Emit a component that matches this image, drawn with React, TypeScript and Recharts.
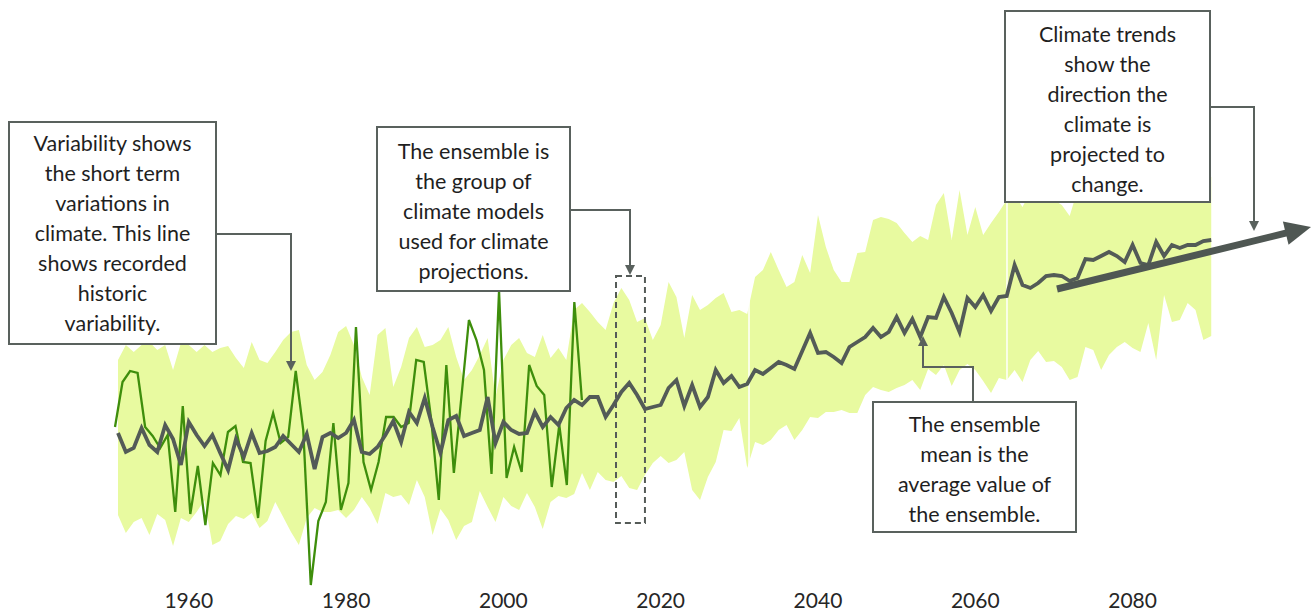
import React from 'react';
import {
  ComposedChart,
  Area,
  Line,
  XAxis,
  YAxis,
  ReferenceArea,
  ReferenceLine,
} from 'recharts';

// Temperature anomaly (°C), one value per year
const START_YEAR = 1951;
const OBS_START_YEAR = 1951;

const xTicks = [1960, 1980, 2000, 2020, 2040, 2060, 2080];

const ensembleMean = [
  0.07, -0.12, -0.08, 0.12, -0.05, -0.12, 0.15, 0.01, -0.25, 0.18,
  0.05, -0.06, 0.05, -0.13, -0.30, 0.01, -0.17, 0.07, -0.13, -0.11,
  -0.07, 0.04, -0.04, -0.12, 0.06, -0.29, 0.03, 0.07, 0.02, 0.07,
  0.20, -0.12, -0.14, -0.07, 0.05, 0.19, -0.02, 0.28, 0.17, 0.42,
  0.13, -0.13, 0.20, 0.24, 0.04, 0.07, 0.10, 0.43, -0.03, 0.18,
  0.10, 0.06, 0.07, 0.28, 0.13, 0.23, 0.15, 0.32, 0.40, 0.35,
  0.43, 0.43, 0.23, 0.35, 0.48, 0.57, 0.45, 0.31, 0.33, 0.35,
  0.52, 0.60, 0.34, 0.55, 0.33, 0.43, 0.70, 0.57, 0.64, 0.53,
  0.56, 0.70, 0.66, 0.72, 0.78, 0.75, 0.71, 0.89, 1.07, 0.87,
  0.88, 0.83, 0.77, 0.93, 0.98, 1.03, 1.12, 1.03, 1.08, 1.23,
  1.07, 1.21, 1.03, 1.23, 1.22, 1.43, 1.27, 1.08, 1.42, 1.33,
  1.45, 1.29, 1.43, 1.44, 1.75, 1.55, 1.52, 1.57, 1.64, 1.65,
  1.64, 1.59, 1.62, 1.81, 1.80, 1.84, 1.88, 1.84, 1.78, 1.95,
  1.77, 1.75, 1.98, 1.84, 1.95, 1.92, 1.95, 1.95, 1.99, 2.00,
];

const ensembleUpper = [
  0.80, 0.95, 0.88, 0.95, 0.98, 0.90, 0.95, 0.70, 0.97, 0.95,
  0.88, 0.95, 0.88, 0.92, 0.94, 0.82, 0.72, 0.98, 0.80, 0.77,
  0.88, 1.00, 1.08, 1.10, 0.75, 0.60, 0.68, 0.85, 1.08, 1.14,
  0.95, 0.63, 0.45, 1.05, 1.12, 0.53, 0.73, 1.02, 1.13, 0.93,
  0.95, 1.00, 1.13, 0.83, 0.60, 0.70, 0.85, 1.02, 0.43, 0.80,
  0.95, 1.02, 0.87, 0.83, 1.05, 0.82, 0.92, 0.80, 1.30, 1.37,
  1.28, 1.18, 1.10, 1.37, 1.52, 1.40, 1.18, 1.22, 1.00, 1.15,
  1.58, 1.43, 1.02, 1.45, 1.30, 1.35, 1.42, 1.47, 1.28, 1.30,
  1.26, 1.63, 1.70, 1.88, 1.70, 1.53, 1.58, 1.85, 1.67, 2.25,
  1.93, 1.70, 1.58, 1.58, 1.87, 1.88, 2.20, 2.23, 2.21, 2.17,
  2.07, 1.98, 2.04, 2.00, 2.35, 2.47, 2.00, 2.50, 2.05, 2.33,
  2.05, 2.17, 2.28, 2.40, 2.45, 2.33, 2.48, 2.55, 2.45, 2.40,
  2.35, 2.24, 2.50, 2.52, 2.45, 2.55, 2.50, 2.58, 2.52, 2.60,
  2.55, 2.50, 2.58, 2.62, 2.55, 2.60, 2.56, 2.61, 2.58, 2.63,
];

const ensembleLower = [
  -0.75, -0.93, -0.82, -0.78, -0.95, -0.74, -0.80, -1.06, -0.78, -0.82,
  -0.72, -0.60, -1.05, -1.01, -0.84, -0.76, -0.79, -0.73, -0.88, -0.81,
  -0.62, -0.77, -0.92, -1.05, -0.78, -0.68, -0.72, -0.72, -0.70, -0.78,
  -0.70, -0.57, -0.68, -0.84, -0.53, -0.57, -0.55, -0.65, -0.40, -0.57,
  -0.95, -0.69, -0.80, -1.00, -0.86, -0.82, -0.51, -0.67, -0.82, -0.57,
  -0.66, -0.70, -0.53, -0.67, -0.89, -0.62, -0.56, -0.58, -0.54, -0.33,
  -0.50, -0.32, -0.40, -0.42, -0.36, -0.48, -0.50, -0.35, -0.23, -0.16,
  -0.23, -0.20, -0.12, -0.50, -0.60, -0.37, -0.22, 0.10, 0.09, 0.22,
  -0.28, -0.02, -0.05, 0.00, 0.10, 0.15, 0.00, 0.10, 0.23, 0.22,
  0.28, 0.28, 0.30, 0.27, 0.27, 0.45, 0.53, 0.50, 0.48, 0.52,
  0.55, 0.60, 0.50, 0.71, 0.65, 0.75, 0.54, 0.70, 0.76, 0.70,
  0.59, 0.47, 0.62, 0.60, 0.70, 0.58, 0.80, 0.89, 0.78, 0.79,
  0.73, 0.60, 0.63, 0.93, 0.90, 0.70, 0.85, 0.93, 0.98, 0.92,
  0.88, 1.17, 0.80, 1.45, 1.18, 1.20, 1.37, 1.30, 1.00, 1.04,
];

// Recorded historic values
const observed = [
  0.13, 0.58, 0.69, 0.67, 0.13, 0.04, -0.08, 0.05, -0.72, 0.34,
  -0.74, -0.26, -0.85, -0.23, -0.35, 0.08, 0.14, -0.22, -0.23, -0.78,
  -0.01, 0.27, -0.03, 0.03, 0.69, 0.10, -1.45, -0.81, -0.62, 0.17,
  -0.70, -0.43, 1.13, -0.22, -0.50, -0.22, 0.23, 0.23, 0.13, 0.17,
  0.80, 0.78, 0.20, -0.60, 0.75, -0.33, 0.43, 1.20, 1.00, 0.70,
  -0.34, 1.49, -0.38, -0.07, -0.32, 0.75, 0.54, 0.45, -0.47, 0.15,
  -0.45, 1.38, 0.40,
];

const chartData = ensembleMean.map((mean, i) => ({
  year: START_YEAR + i,
  mean,
  range: [ensembleLower[i], ensembleUpper[i]],
}));

const observedData = observed.map((obs, i) => ({ year: OBS_START_YEAR + i, obs }));

const INK = '#59615D';
const FONT = 'Lato, "Open Sans", sans-serif';

const callouts = [
  {
    lines: ['Variability shows', 'the short term', 'variations in', 'climate. This line', 'shows recorded', 'historic', 'variability.'],
    left: 8, top: 121, width: 209, height: 224, padTop: 5,
  },
  {
    lines: ['The ensemble is', 'the group of', 'climate models', 'used for climate', 'projections.'],
    left: 376, top: 126, width: 195, height: 166, padTop: 8,
  },
  {
    lines: ['The ensemble', 'mean is the', 'average value of', 'the ensemble.'],
    left: 872, top: 401, width: 205, height: 132, padTop: 6,
  },
  {
    lines: ['Climate trends', 'show the', 'direction the', 'climate is', 'projected to', 'change.'],
    left: 1004, top: 10, width: 207, height: 193, padTop: 7,
  },
];

const connectors = [
  [[217, 234], [291, 234], [291, 371]],
  [[571, 210], [630, 210], [630, 275]],
  [[973, 401], [973, 367], [923, 367], [923, 336]],
  [[1211, 107], [1254, 107], [1254, 231]],
];

const Connector = ({ pts }: { pts: number[][] }) => {
  const [tx, ty] = pts[pts.length - 1];
  const [px, py] = pts[pts.length - 2];
  const len = Math.hypot(tx - px, ty - py);
  const ux = (tx - px) / len;
  const uy = (ty - py) / len;
  const bx = tx - ux * 10;
  const by = ty - uy * 10;
  const line = [...pts.slice(0, -1), [bx, by]].map((p) => p.join(',')).join(' ');
  return (
    <g>
      <polyline points={line} fill="none" stroke={INK} strokeWidth={2} />
      <polygon
        points={`${tx},${ty} ${bx - uy * 5},${by + ux * 5} ${bx + uy * 5},${by - ux * 5}`}
        fill={INK}
      />
    </g>
  );
};

// Thick trend arrow drawn from the reference segment ends
const TrendArrow = (props: any) => {
  const { x1, y1, x2, y2 } = props;
  const len = Math.hypot(x2 - x1, y2 - y1);
  const ux = (x2 - x1) / len;
  const uy = (y2 - y1) / len;
  const bx = x2 - ux * 26;
  const by = y2 - uy * 26;
  return (
    <g>
      <line x1={x1} y1={y1} x2={bx + ux * 2} y2={by + uy * 2} stroke="#4F5753" strokeWidth={7} />
      <polygon
        points={`${x2},${y2} ${bx - uy * 12},${by + ux * 12} ${bx + uy * 12},${by - ux * 12}`}
        fill="#4F5753"
      />
    </g>
  );
};

export default function App() {
  return (
    <div style={{ position: 'absolute', left: 0, top: 0, width: 1312, height: 613, fontFamily: FONT, background: '#fff' }}>
      <ComposedChart
        width={1312}
        height={613}
        data={chartData}
        margin={{ top: 0, right: 0, left: 108, bottom: 0 }}
      >
        <XAxis
          dataKey="year"
          type="number"
          domain={[1949.73, 2102.81]}
          allowDataOverflow
          ticks={xTicks}
          interval={0}
          axisLine={false}
          tickLine={false}
          tickMargin={0}
          height={26}
          tick={{ fill: '#262626', fontSize: 21, fontFamily: FONT }}
        />
        <XAxis
          xAxisId="obs"
          dataKey="year"
          type="number"
          domain={[1950.07, 2109.96]}
          allowDataOverflow
          hide
        />
        <YAxis type="number" domain={[-1.47, 4.4]} allowDataOverflow hide />

        <Area
          type="linear"
          dataKey="range"
          stroke="none"
          fill="#E8FAA0"
          fillOpacity={1}
          dot={false}
          activeDot={false}
          isAnimationActive={false}
        />
        <ReferenceLine x={2031.23} stroke="#ffffff" strokeWidth={1.5} />
        <ReferenceLine x={2064.03} stroke="#ffffff" strokeWidth={1.5} />

        <Line
          xAxisId="obs"
          data={observedData}
          type="linear"
          dataKey="obs"
          stroke="#3E8E0C"
          strokeWidth={2.3}
          dot={false}
          activeDot={false}
          isAnimationActive={false}
        />
        <Line
          type="linear"
          dataKey="mean"
          stroke="#535B57"
          strokeWidth={3.8}
          dot={false}
          activeDot={false}
          isAnimationActive={false}
        />

        <ReferenceArea
          x1={2014.32}
          x2={2018}
          y1={-0.83}
          y2={1.64}
          fill="none"
          fillOpacity={0}
          stroke="#555B58"
          strokeWidth={2}
          strokeDasharray="6 4"
          ifOverflow="visible"
        />
        <ReferenceLine
          segment={[{ x: 2070.39, y: 1.51 }, { x: 2102.68, y: 2.13 }]}
          shape={TrendArrow}
          ifOverflow="visible"
        />
      </ComposedChart>

      <svg
        width={1312}
        height={613}
        style={{ position: 'absolute', left: 0, top: 0, pointerEvents: 'none' }}
      >
        {connectors.map((pts, i) => (
          <Connector key={i} pts={pts} />
        ))}
      </svg>

      {callouts.map((c, i) => (
        <div
          key={i}
          style={{
            position: 'absolute',
            left: c.left,
            top: c.top,
            width: c.width,
            height: c.height,
            boxSizing: 'border-box',
            border: `2px solid ${INK}`,
            background: '#fff',
            paddingTop: c.padTop,
            textAlign: 'center',
            fontSize: 21.5,
            lineHeight: '30px',
            color: '#1F1F1F',
            whiteSpace: 'nowrap',
          }}
        >
          {c.lines.map((l, j) => (
            <div key={j}>{l}</div>
          ))}
        </div>
      ))}
    </div>
  );
}
